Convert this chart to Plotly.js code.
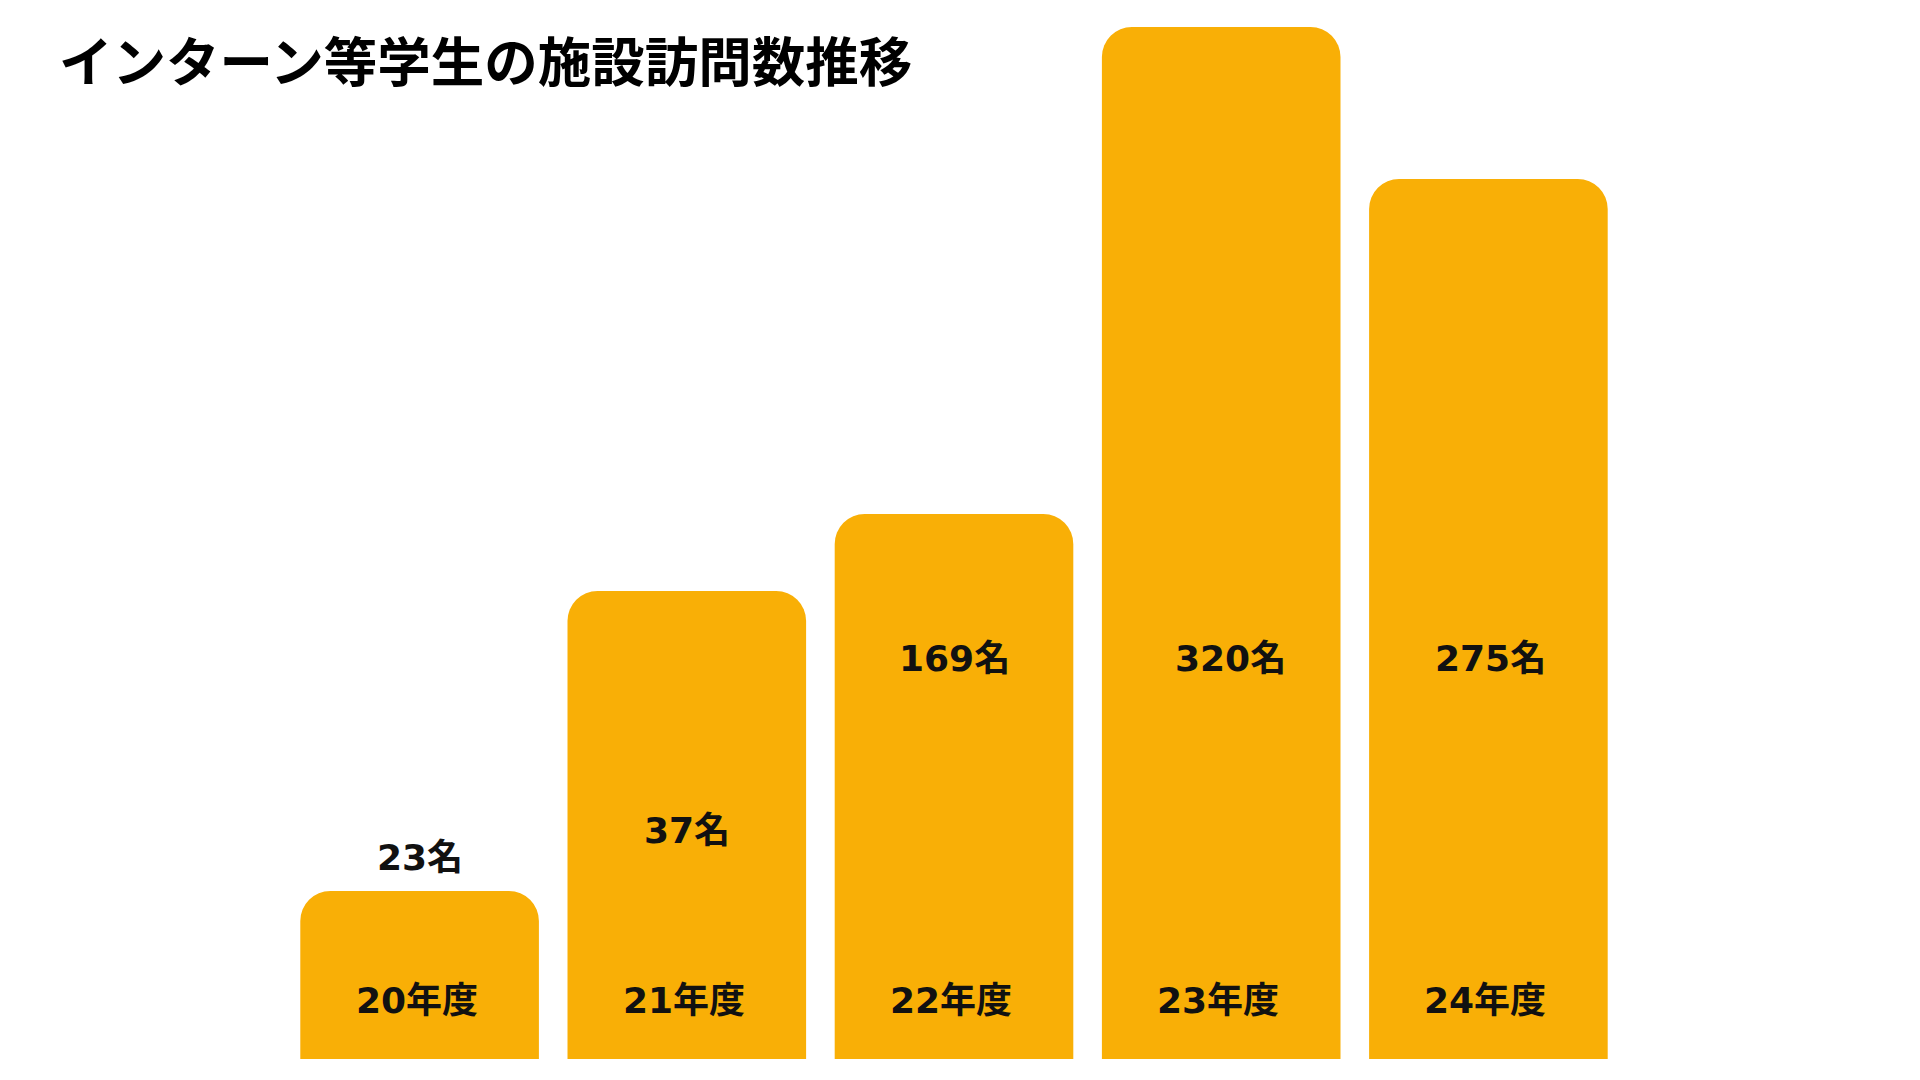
<!DOCTYPE html>
<html>
<head>
<meta charset="utf-8">
<script src="https://cdn.plot.ly/plotly-3.0.1.min.js"></script>
<style>html,body{margin:0;padding:0;background:#fff;}#chart{width:1920px;height:1080px;}</style>
</head>
<body>
<div id="chart"></div>
<script>
// Data
const titleText = 'インターン等学生の施設訪問数推移';
const categories = ['20年度', '21年度', '22年度', '23年度', '24年度'];
const visitors = [23, 37, 169, 320, 275];
const unitSuffix = '名';
// The infographic's bars are not drawn to scale: these are the visible bar heights (px)
const barHeights = [168, 468, 545, 1032, 880];
// Vertical positions (same units as barHeights) of the value labels as placed in the picture
const valueLabelY = [202, 229, 401, 401, 401];
const valueLabelShift = [0, 0, 0, 9, 2];
const categoryLabelY = 59;

const barColor = '#F9AF06';
const labelFont = '"DejaVu Sans", "Noto Sans CJK JP", sans-serif';
const titleFont = '"Noto Sans CJK JP", "Noto Sans", sans-serif';

const trace = {
  type: 'bar',
  x: categories,
  y: barHeights,
  marker: {color: barColor, cornerradius: 30, line: {width: 0}},
  hoverinfo: 'skip',
  showlegend: false
};

const annotations = [];
categories.forEach((c, i) => {
  annotations.push({
    x: c, y: valueLabelY[i], xref: 'x', yref: 'y', xshift: valueLabelShift[i],
    text: '<b>' + visitors[i] + unitSuffix + '</b>',
    showarrow: false, xanchor: 'center', yanchor: 'middle',
    font: {family: labelFont, size: 36, color: '#111111'}
  });
  annotations.push({
    x: c, y: categoryLabelY, xref: 'x', yref: 'y', xshift: -3,
    text: '<b>' + c + '</b>',
    showarrow: false, xanchor: 'center', yanchor: 'middle',
    font: {family: labelFont, size: 36, color: '#111111'}
  });
});

const layout = {
  width: 1920, height: 1080,
  paper_bgcolor: '#ffffff', plot_bgcolor: '#ffffff',
  margin: {l: 286, r: 298, t: 27, b: 21},
  bargap: 0.107,
  title: {
    text: '<b>' + titleText + '</b>',
    x: 59 / 1920, xanchor: 'left', xref: 'container',
    y: 1 - 63 / 1080, yanchor: 'middle', yref: 'container',
    font: {family: titleFont, size: 53.5, color: '#000000'}
  },
  xaxis: {visible: false, range: [-0.5, 4.5], fixedrange: true},
  yaxis: {visible: false, range: [0, 1032], fixedrange: true},
  annotations: annotations
};

Plotly.newPlot('chart', [trace], layout, {displayModeBar: false, staticPlot: true});
</script>
</body>
</html>
